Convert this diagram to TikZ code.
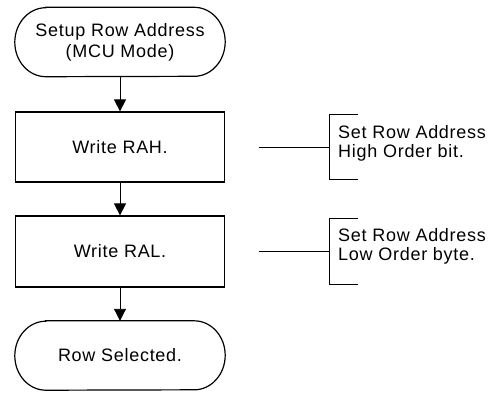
\documentclass[tikz,border=0pt]{standalone}
\usepackage{fontspec}
\setmainfont[LetterSpace=4]{Liberation Sans}
\usetikzlibrary{arrows.meta}
\tikzset{
  box/.style={draw, line width=1.2pt, minimum width=209pt, inner sep=0pt, align=center, font=\fontsize{18}{21}\selectfont},
  term/.style={minimum width=210pt, inner sep=0pt, align=center, font=\fontsize{18}{21}\selectfont},
  termline/.style={line width=1.2pt},
  flow/.style={line width=0.9pt, -{Triangle[length=12pt, width=12pt]}},
  note/.style={line width=0.8pt},
  notetext/.style={anchor=west, inner sep=0pt, align=left, font=\fontsize{18}{18.5}\selectfont}
}
\begin{document}
\begin{tikzpicture}[x=1pt, y=-1pt]
\useasboundingbox (0,0) rectangle (500,392);
% terminators
\node[term, minimum height=69pt] (start) at (120,42) {Setup Row Address\\(MCU Mode)};
\draw[termline] ([xshift=31pt]start.north west) -- ([xshift=-31pt]start.north east)
  arc[start angle=90, end angle=-90, x radius=31pt, y radius=34.5pt]
  -- ([xshift=31pt]start.south west)
  arc[start angle=270, end angle=90, x radius=31pt, y radius=34.5pt] -- cycle;
\node[box, minimum height=70pt] (rah) at (120,147) {Write RAH.};
\node[box, minimum height=71pt] (ral) at (120,251.5) {Write RAL.};
\node[term, minimum height=69pt] (end) at (120,355.5) {Row Selected.};
\draw[termline] ([xshift=31pt]end.north west) -- ([xshift=-31pt]end.north east)
  arc[start angle=90, end angle=-90, x radius=31pt, y radius=34.5pt]
  -- ([xshift=31pt]end.south west)
  arc[start angle=270, end angle=90, x radius=31pt, y radius=34.5pt] -- cycle;
% flow arrows
\draw[flow] (start.south) -- (rah.north);
\draw[flow] (rah.south) -- (ral.north);
\draw[flow] (ral.south) -- (end.north);
% annotations
\coordinate (h1) at (259,147);
\coordinate (b1) at (329,147);
\draw[note] (h1) -- (b1);
\draw[note] (358,114) -- (329,114) -- (329,179) -- (358,179);
\node[notetext] (n1) at (338,143.5) {Set Row Address\\High Order bit.};
\coordinate (h2) at (259,251);
\coordinate (b2) at (329,251);
\draw[note] (h2) -- (b2);
\draw[note] (358,218) -- (329,218) -- (329,284) -- (358,284);
\node[notetext] (n2) at (338,246.5) {Set Row Address\\Low Order byte.};
\end{tikzpicture}
\end{document}
